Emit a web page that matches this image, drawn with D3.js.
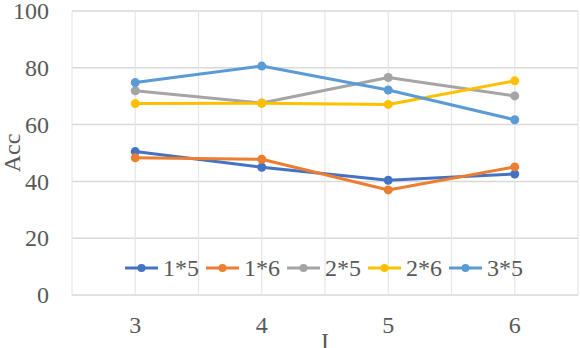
<!DOCTYPE html>
<html><head><meta charset="utf-8">
<script src="https://cdn.jsdelivr.net/npm/d3@7"></script>
<style>body{margin:0;background:#fff}svg{display:block}
text{font-family:"Liberation Serif","Times New Roman",serif;font-size:24px;fill:#595959}</style>
</head><body>
<script>
const categories = ["3","4","5","6"];
const seriesNames = ["1*5","1*6","2*5","2*6","3*5"];
const s15 = [50.5, 45.0, 40.4, 42.6];
const s16 = [48.3, 47.8, 37.0, 45.1];
const s25 = [71.9, 67.6, 76.6, 70.1];
const s26 = [67.4, 67.5, 67.1, 75.4];
const s35 = [74.8, 80.6, 72.2, 61.7];
const yTicks = [0,20,40,60,80,100];
const colors = ["#4472C4","#ED7D31","#A5A5A5","#FFC000","#5B9BD5"];
const values = [s15,s16,s25,s26,s35];

const W=580,H=348;
const m={l:72,r:2,t:11,b:53};
const svg=d3.select("body").append("svg").attr("width",W).attr("height",H);
const x=d3.scaleBand().domain(categories).range([m.l,W-m.r]);
const y=d3.scaleLinear().domain([0,100]).range([H-m.b,m.t]);

// grid
const g=svg.append("g");
g.selectAll("line.h").data(yTicks).join("line")
 .attr("x1",m.l).attr("x2",W-m.r).attr("y1",d=>y(d)).attr("y2",d=>y(d))
 .attr("stroke","#d9d9d9").attr("stroke-width",1.5);
const vx=[];
categories.forEach(c=>{vx.push(x(c)); vx.push(x(c)+x.bandwidth()/2);});
vx.push(x(categories[categories.length-1])+x.bandwidth());
g.selectAll("line.v").data(vx).join("line")
 .attr("x1",d=>d).attr("x2",d=>d).attr("y1",m.t).attr("y2",H-m.b)
 .attr("stroke","#e6e6e6").attr("stroke-width",1.2);

// y labels
svg.append("g").selectAll("text").data(yTicks).join("text")
 .attr("x",49).attr("y",d=>y(d)).attr("dy","0.34em").attr("text-anchor","end").text(d=>d);
// x labels
svg.append("g").selectAll("text").data(categories).join("text")
 .attr("x",d=>x(d)+x.bandwidth()/2).attr("y",333).attr("text-anchor","middle").text(d=>d);
// axis titles
svg.append("text").attr("transform","translate(20,153) rotate(-90)").attr("text-anchor","middle").text("Acc");
svg.append("text").attr("x",325).attr("y",349).attr("text-anchor","middle").text("I");

// series
const line=d3.line().x((d,i)=>x(categories[i])+x.bandwidth()/2).y(d=>y(d));
values.forEach((vals,si)=>{
  svg.append("path").datum(vals).attr("d",line).attr("fill","none")
   .attr("stroke",colors[si]).attr("stroke-width",3).attr("stroke-linejoin","round");
  svg.append("g").selectAll("circle").data(vals).join("circle")
   .attr("cx",(d,i)=>x(categories[i])+x.bandwidth()/2).attr("cy",d=>y(d)).attr("r",4.5)
   .attr("fill",colors[si]);
});

// legend
const lg=svg.append("g");
seriesNames.forEach((n,i)=>{
  const x0=125+i*81, yy=268;
  lg.append("line").attr("x1",x0).attr("x2",x0+33).attr("y1",yy).attr("y2",yy)
   .attr("stroke",colors[i]).attr("stroke-width",3);
  lg.append("circle").attr("cx",x0+16.5).attr("cy",yy).attr("r",4).attr("fill",colors[i]);
  lg.append("text").attr("x",x0+38).attr("y",yy).attr("dy","0.34em").text(n);
});
</script>
</body></html>
